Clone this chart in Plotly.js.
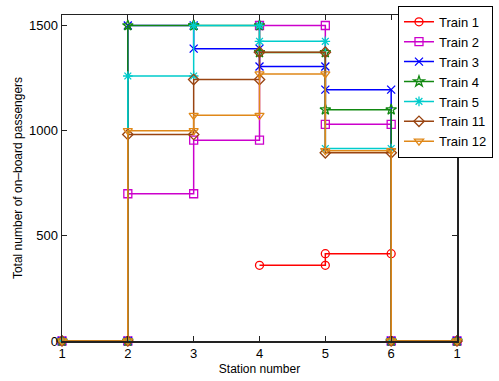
<!DOCTYPE html>
<html>
<head>
<meta charset="utf-8">
<script src="https://cdn.plot.ly/plotly-3.0.1.min.js"></script>
<style>
  html, body { margin: 0; padding: 0; background: #fff; }
  #chart { width: 499px; height: 381px; }
</style>
</head>
<body>
<div id="chart"></div>
<script>
// Station tick positions and the labels printed under them (route returns to station 1)
const stationPos = [1, 2, 3, 4, 5, 6, 7];
const stationLabels = ['1', '2', '3', '4', '5', '6', '1'];

// On-board passengers on each leg (leg i runs from station i to station i+1); null = not running
const train1  = [null, null, null, 360, 415, 0];
const train2  = [0, 700, 955, 1500, 1030, 0];
const train3  = [0, 1500, 1390, 1305, 1195, 0];
const train4  = [0, 1500, 1500, 1372, 1100, 0];
const train5  = [0, 1260, 1500, 1425, 915, 0];
const train11 = [0, 982, 1243, 1373, 895, 0];
const train12 = [0, 1000, 1073, 1270, 905, 0];

const trainNames = ['Train 1', 'Train 2', 'Train 3', 'Train 4', 'Train 5', 'Train 11', 'Train 12'];
const trainLegs = [train1, train2, train3, train4, train5, train11, train12];

const styles = [
  { color: '#ff0000', symbol: 'circle-open' },
  { color: '#cc00cc', symbol: 'square-open' },
  { color: '#0000ff', symbol: 'x-thin-open' },
  { color: '#118811', symbol: 'star-open' },
  { color: '#00cccc', symbol: 'asterisk-open' },
  { color: '#994411', symbol: 'diamond-open' },
  { color: '#e08818', symbol: 'triangle-down-open' }
];

// Turn per-leg loads into a staircase: each leg is a flat run between two stations
function staircase(legs) {
  const xs = [], ys = [];
  legs.forEach((v, i) => {
    if (v === null) return;
    xs.push(stationPos[i], stationPos[i + 1]);
    ys.push(v, v);
  });
  return { xs, ys };
}

const traces = trainLegs.map((legs, k) => {
  const s = staircase(legs);
  return {
    x: s.xs, y: s.ys, type: 'scatter', mode: 'lines+markers',
    name: trainNames[k], cliponaxis: false,
    line: { color: styles[k].color, width: 1.5 },
    marker: { symbol: styles[k].symbol, size: 8, color: styles[k].color,
              line: { color: styles[k].color, width: 1.3 } }
  };
});

const font = { family: 'Liberation Sans, Arial, sans-serif', color: '#000' };

const layout = {
  width: 499, height: 381,
  margin: { l: 62, r: 42, t: 15, b: 40, autoexpand: false },
  paper_bgcolor: '#fff', plot_bgcolor: '#fff',
  font: Object.assign({ size: 13 }, font),
  showlegend: true,
  legend: {
    x: 0.8506, y: 1.028, xanchor: 'left', yanchor: 'top',
    bgcolor: '#fff', bordercolor: '#000', borderwidth: 1,
    font: Object.assign({ size: 13 }, font),
    tracegroupgap: 0
  },
  xaxis: {
    range: [1, 7], tickvals: stationPos, ticktext: stationLabels,
    showgrid: false, zeroline: false,
    showline: true, linecolor: '#222', linewidth: 1.5, mirror: 'allticks',
    ticks: 'inside', ticklen: 5, tickcolor: '#222', tickwidth: 1,
    tickfont: Object.assign({ size: 13 }, font),
    title: { text: 'Station number', font: Object.assign({ size: 12 }, font), standoff: 4 }
  },
  yaxis: {
    range: [0, 1550], tickvals: [0, 500, 1000, 1500],
    showgrid: false, zeroline: false,
    showline: true, linecolor: '#222', linewidth: 1.5, mirror: 'allticks',
    ticks: 'inside', ticklen: 5, tickcolor: '#222', tickwidth: 1,
    tickfont: Object.assign({ size: 13 }, font),
    title: { text: 'Total number of on\u2013board passengers', font: Object.assign({ size: 12 }, font), standoff: 4 }
  }
};

Plotly.newPlot('chart', traces, layout, { staticPlot: true, displayModeBar: false });
</script>
</body>
</html>
